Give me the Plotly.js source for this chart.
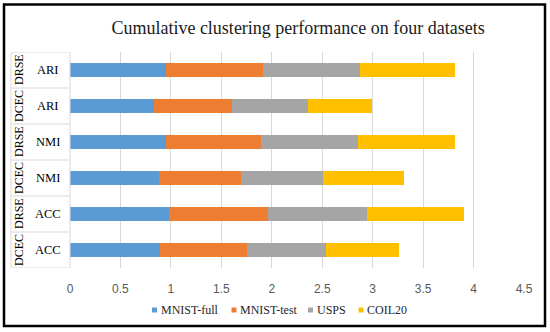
<!DOCTYPE html>
<html>
<head>
<meta charset="utf-8">
<script src="https://cdn.plot.ly/plotly-3.0.1.min.js"></script>
<style>html,body{margin:0;padding:0;background:#fff;}#chart{width:550px;height:332px;}</style>
</head>
<body>
<div id="chart"></div>
<script>
// Data (rows from bottom to top)
var methods = ['DCEC', 'DRSE', 'DCEC', 'DRSE', 'DCEC', 'DRSE'];
var metrics = ['ACC', 'ACC', 'NMI', 'NMI', 'ARI', 'ARI'];
var seriesNames = ['MNIST-full', 'MNIST-test', 'USPS', 'COIL20'];
var mnistFull = [0.89, 0.98, 0.88, 0.95, 0.83, 0.95];
var mnistTest = [0.86, 0.98, 0.81, 0.94, 0.78, 0.96];
var usps      = [0.79, 0.98, 0.82, 0.96, 0.75, 0.96];
var coil20    = [0.72, 0.97, 0.80, 0.97, 0.63, 0.95];
var xTicks = [0, 0.5, 1, 1.5, 2, 2.5, 3, 3.5, 4, 4.5];
var titleText = 'Cumulative clustering performance on four datasets';

var colors = ['#5B9BD5', '#ED7D31', '#A5A5A5', '#FFC000'];
var cats = methods.map(function (m, i) { return m + ' ' + metrics[i]; });
var values = [mnistFull, mnistTest, usps, coil20];

var traces = values.map(function (v, k) {
  return {
    type: 'bar', orientation: 'h', x: v, y: cats, name: seriesNames[k],
    marker: {color: colors[k], line: {width: 0}}, hoverinfo: 'x+y+name', showlegend: false
  };
});

// plot area in pixels, for converting label/frame positions to paper coords
var L = 70, R = 524, T = 52, B = 268;
function px(x) { return (x - L) / (R - L); }
function py(y) { return (B - y) / (B - T); }

var serif = 'Liberation Serif, Times New Roman, serif';
var annotations = [];
var shapes = [];
var lineCol = '#d9d9d9';
var tableLeft = px(11);
cats.forEach(function (c, i) {
  annotations.push({xref: 'paper', yref: 'y', x: px(48), y: c, text: metrics[i],
    showarrow: false, xanchor: 'center', yanchor: 'middle', font: {family: serif, size: 12.5, color: '#000'}});
  annotations.push({xref: 'paper', yref: 'y', x: px(19), y: c, text: methods[i], textangle: -90,
    showarrow: false, xanchor: 'center', yanchor: 'middle', font: {family: serif, size: 12, color: '#000'}});
});
for (var i = 0; i <= cats.length; i++) {
  shapes.push({type: 'line', xref: 'paper', yref: 'y', x0: tableLeft, x1: 0, y0: i - 0.5, y1: i - 0.5,
    line: {color: lineCol, width: 1}});
}
shapes.push({type: 'line', xref: 'paper', yref: 'y', x0: tableLeft, x1: tableLeft, y0: -0.5, y1: cats.length - 0.5,
  line: {color: lineCol, width: 1}});
shapes.push({type: 'line', xref: 'paper', yref: 'y', x0: 0, x1: 0, y0: -0.5, y1: cats.length - 0.5,
  line: {color: lineCol, width: 1}});
// outer frame
shapes.push({type: 'rect', xref: 'paper', yref: 'paper', x0: px(4), x1: px(545), y0: py(326), y1: py(4.5),
  line: {color: '#000', width: 2.5}, fillcolor: 'rgba(0,0,0,0)'});

// legend (Excel-style small squares)
var legendX = [154.5, 234, 310.5, 361];
var legendY = 310;
seriesNames.forEach(function (n, k) {
  shapes.push({type: 'rect', xref: 'paper', yref: 'paper',
    x0: px(legendX[k] - 2.5), x1: px(legendX[k] + 2.5), y0: py(legendY + 2.5), y1: py(legendY - 2.5),
    line: {width: 0}, fillcolor: colors[k]});
  annotations.push({xref: 'paper', yref: 'paper', x: px(legendX[k] + 4), y: py(legendY), text: n,
    showarrow: false, xanchor: 'left', yanchor: 'middle', font: {family: serif, size: 12, color: '#262626'}});
});

var layout = {
  width: 550, height: 332,
  margin: {l: L, r: 550 - R, t: T, b: 332 - B},
  paper_bgcolor: '#fff', plot_bgcolor: '#fff',
  barmode: 'stack', bargap: 0.61,
  title: {text: titleText, font: {family: serif, size: 18, color: '#1a1a1a'},
    xref: 'container', yref: 'container', x: 0.542, y: 0.918, xanchor: 'center', yanchor: 'middle'},
  xaxis: {range: [0, 4.5], tickvals: xTicks, ticktext: xTicks.map(String),
    showgrid: true, gridcolor: lineCol, gridwidth: 1, zeroline: false, showline: false,
    ticks: '', ticklabelstandoff: 12,
    tickfont: {family: 'Liberation Sans, Arial, sans-serif', size: 12, color: '#595959'}},
  yaxis: {type: 'category', categoryorder: 'array', categoryarray: cats, range: [-0.5, 5.5],
    showticklabels: false, showgrid: false, zeroline: false, showline: false, ticks: ''},
  showlegend: false,
  annotations: annotations,
  shapes: shapes
};

Plotly.newPlot('chart', traces, layout, {displayModeBar: false, staticPlot: true});
</script>
</body>
</html>
